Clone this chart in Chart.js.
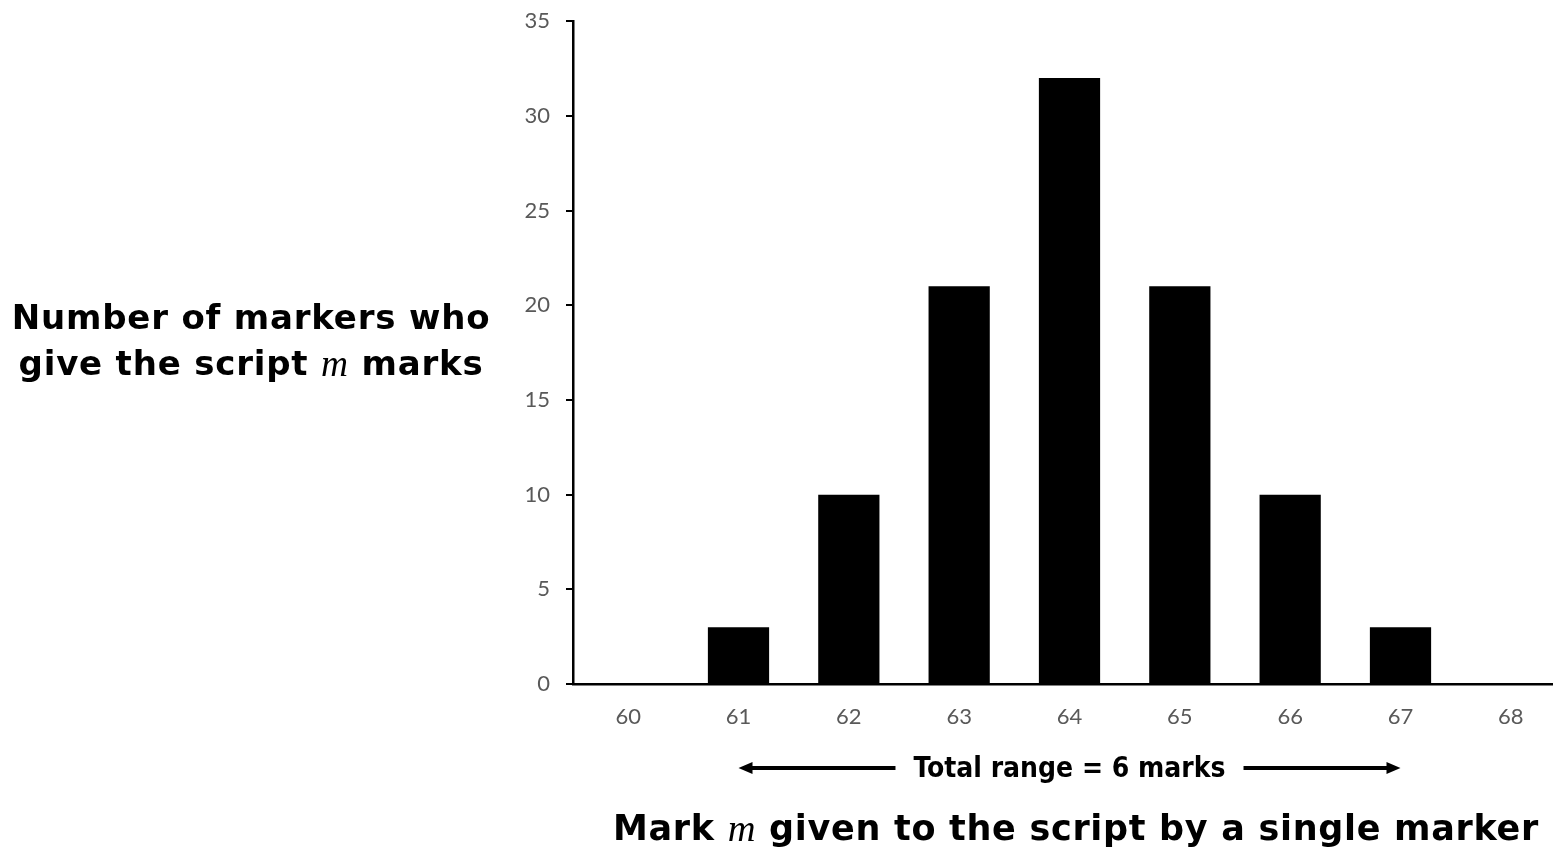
<!DOCTYPE html>
<html><head><meta charset="utf-8">
<script src="https://cdn.jsdelivr.net/npm/chart.js@4/dist/chart.umd.min.js"></script>
<style>html,body{margin:0;padding:0;background:#fff;overflow:hidden;width:1553px;height:858px;}#wrap{position:absolute;left:0;top:-8px;width:1566px;height:866px;}</style>
</head><body><div id="wrap"><canvas id="c" width="1566" height="866"></canvas></div>
<script>
const categories = ['60','61','62','63','64','65','66','67','68'];
const counts = [0, 3, 10, 21, 32, 21, 10, 3, 0];
const yTicks = [0, 5, 10, 15, 20, 25, 30, 35];
const yTitleLines = [[{t:'Number of markers who'}],[{t:'give the script '},{t:'m',i:true},{t:' marks'}]];
const xTitle = [{t:'Mark '},{t:'m',i:true},{t:' given to the script by a single marker'}];
const rangeLabel = 'Total range = 6 marks';
const rangeFrom = '61', rangeTo = '67';

const boldFont = s => 'bold ' + s + 'px "DejaVu Sans", sans-serif';
const italFont = s => 'italic ' + s + 'px "Liberation Serif", serif';
const OFF = 8; // canvas is shifted up by this many pixels

function drawRich(ctx, segs, cx, cy, size, spacing) {
  ctx.letterSpacing = spacing + 'px';
  const w = segs.map(s => { ctx.font = s.i ? italFont(size*1.1) : boldFont(size); return ctx.measureText(s.t).width; });
  const total = w.reduce((a,b)=>a+b,0);
  let x = cx - total/2;
  segs.forEach((s,k) => { ctx.font = s.i ? italFont(size*1.1) : boldFont(size); ctx.fillText(s.t, x, cy + OFF); x += w[k]; });
  ctx.letterSpacing = '0px';
}

const annot = {
  id: 'annot',
  afterDraw(chart) {
    const ctx = chart.ctx, xs = chart.scales.x;
    ctx.save();
    ctx.fillStyle = '#000'; ctx.textBaseline = 'middle'; ctx.textAlign = 'left';
    drawRich(ctx, yTitleLines[0], 251, 320, 34, 0.8);
    drawRich(ctx, yTitleLines[1], 251, 366, 34, 0.8);
    drawRich(ctx, xTitle, 1076, 831, 35, 0.7);
    // range annotation
    const x1 = xs.getPixelForValue(categories.indexOf(rangeFrom));
    const x2 = xs.getPixelForValue(categories.indexOf(rangeTo));
    const ay = 768 + OFF;
    ctx.font = 'bold 28px "DejaVu Sans Condensed", "DejaVu Sans", sans-serif';
    const tw = ctx.measureText(rangeLabel).width;
    const mid = (x1 + x2) / 2;
    ctx.textAlign = 'center';
    ctx.fillText(rangeLabel, mid, ay + 2);
    const gap = 18;
    ctx.lineWidth = 4; ctx.strokeStyle = '#000';
    ctx.beginPath();
    ctx.moveTo(x1 + 12, ay); ctx.lineTo(mid - tw/2 - gap, ay);
    ctx.moveTo(mid + tw/2 + gap, ay); ctx.lineTo(x2 - 12, ay);
    ctx.stroke();
    ctx.beginPath();
    ctx.moveTo(x1, ay); ctx.lineTo(x1 + 14, ay - 6); ctx.lineTo(x1 + 14, ay + 6); ctx.closePath();
    ctx.moveTo(x2, ay); ctx.lineTo(x2 - 14, ay - 6); ctx.lineTo(x2 - 14, ay + 6); ctx.closePath();
    ctx.fill();
    ctx.restore();
  }
};

new Chart(document.getElementById('c'), {
  type: 'bar',
  data: { labels: categories, datasets: [{ data: counts, backgroundColor: '#000', borderWidth: 0, barPercentage: 0.555, categoryPercentage: 1.0 }] },
  options: {
    responsive: false, animation: false, devicePixelRatio: 1,
    layout: { padding: { left: 520, right: 0, top: 4, bottom: 114 } },
    plugins: { legend: { display: false }, tooltip: { enabled: false } },
    scales: {
      x: {
        grid: { display: false },
        border: { color: '#000', width: 2.5 },
        ticks: { color: '#595959', font: { family: 'Lato', size: 22 }, padding: 12 },
        afterFit: s => { s.height = 60; }
      },
      y: {
        min: 0, max: 35,
        afterBuildTicks: s => { s.ticks = yTicks.map(v => ({ value: v })); },
        grid: { display: true, drawOnChartArea: false, drawTicks: true, tickLength: 7, color: '#000', lineWidth: 2 },
        border: { color: '#000', width: 2.5 },
        ticks: { color: '#595959', font: { family: 'Lato', size: 22 }, padding: 16 },
        afterFit: s => { s.width = 53; }
      }
    }
  },
  plugins: [annot]
});
</script></body></html>
